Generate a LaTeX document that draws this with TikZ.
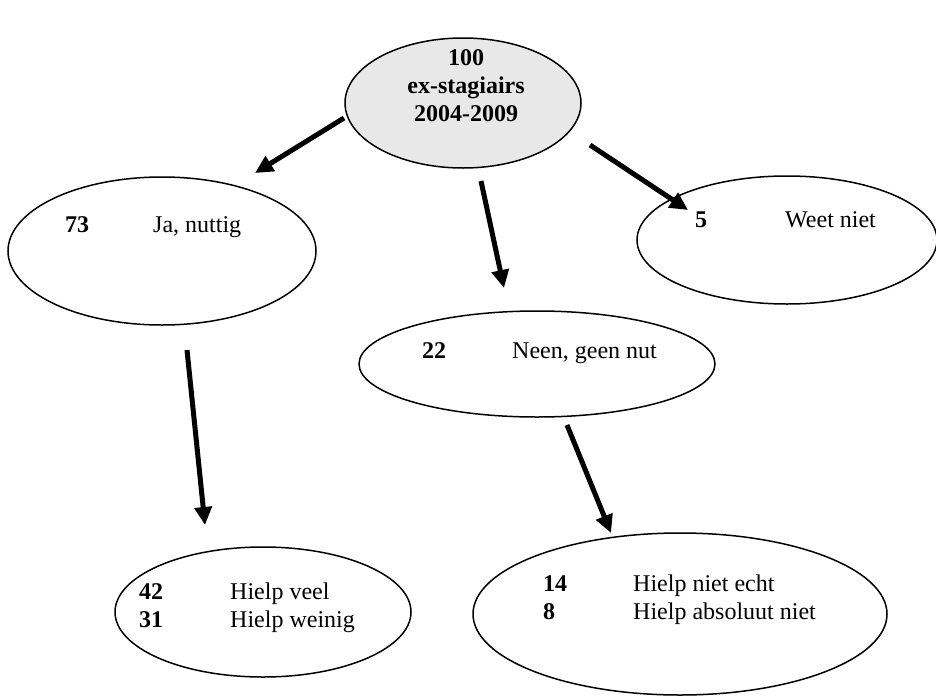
\documentclass[tikz,border=0pt]{standalone}
\usepackage{fontspec}
\setmainfont{Liberation Serif}
\usetikzlibrary{shapes.geometric,arrows.meta}

\tikzset{
  bubble/.style={draw, ellipse, line width=1.5pt, inner sep=0pt},
  txt/.style={anchor=base west, inner sep=0pt, font=\fontsize{24}{28}\selectfont},
  arr/.style={line width=5pt, -{Triangle[length=18pt,width=17pt]}}
}

\begin{document}
\begin{tikzpicture}[x=1pt, y=-1pt]
			%%%%% START %%%%%
			\useasboundingbox (0,0) rectangle (936,696);

			% ellipses
			\node[bubble, fill=black!9, minimum width=236pt, minimum height=130pt] (top) at (463,103) {};
			\node[bubble, minimum width=308pt, minimum height=148pt] (ja) at (162,251) {};
			\node[bubble, minimum width=300pt, minimum height=128pt] (weet) at (787,240) {};
			\node[bubble, minimum width=356pt, minimum height=106pt] (neen) at (537,364) {};
			\node[bubble, minimum width=296pt, minimum height=130pt] (veel) at (263,612) {};
			\node[bubble, minimum width=414pt, minimum height=162pt] (echt) at (680,614) {};

			% texts
			\node[inner sep=0pt, align=center, font=\fontsize{24}{28}\selectfont\bfseries] (toptxt) at (466,86) {100\\ex-stagiairs\\2004-2009};

			\node[txt] (n73) at (65,232) {\textbf{73}};
			\node[txt] (t73) at (153,232) {Ja, nuttig};

			\node[txt] (n5) at (695,227) {\textbf{5}};
			\node[txt] (t5) at (785,227) {Weet niet};

			\node[txt] (n22) at (422,358) {\textbf{22}};
			\node[txt] (t22) at (512,358) {Neen, geen nut};

			\node[txt] (n42) at (139,599) {\textbf{42}};
			\node[txt] (t42) at (230,599) {Hielp veel};
			\node[txt] (n31) at (139,627) {\textbf{31}};
			\node[txt] (t31) at (230,627) {Hielp weinig};

			\node[txt] (n14) at (543,591) {\textbf{14}};
			\node[txt] (t14) at (633,591) {Hielp niet echt};
			\node[txt] (n8) at (543,619) {\textbf{8}};
			\node[txt] (t8) at (633,619) {Hielp absoluut niet};

			% arrow ends
			\coordinate (a1s) at (344,118);
			\coordinate (a1e) at (255,173);
			\coordinate (a2s) at (481,181);
			\coordinate (a2e) at (504,288);
			\coordinate (a3s) at (590,145);
			\coordinate (a3e) at (688,210);
			\coordinate (a4s) at (187,350);
			\coordinate (a4e) at (205,525);
			\coordinate (a5s) at (567,425);
			\coordinate (a5e) at (611,533);

			\draw[arr] (a1s) -- (a1e);
			\draw[arr] (a2s) -- (a2e);
			\draw[arr] (a3s) -- (a3e);
			\draw[arr] (a4s) -- (a4e);
			\draw[arr] (a5s) -- (a5e);

			%%%%% END %%%%%
\end{tikzpicture}
\end{document}
